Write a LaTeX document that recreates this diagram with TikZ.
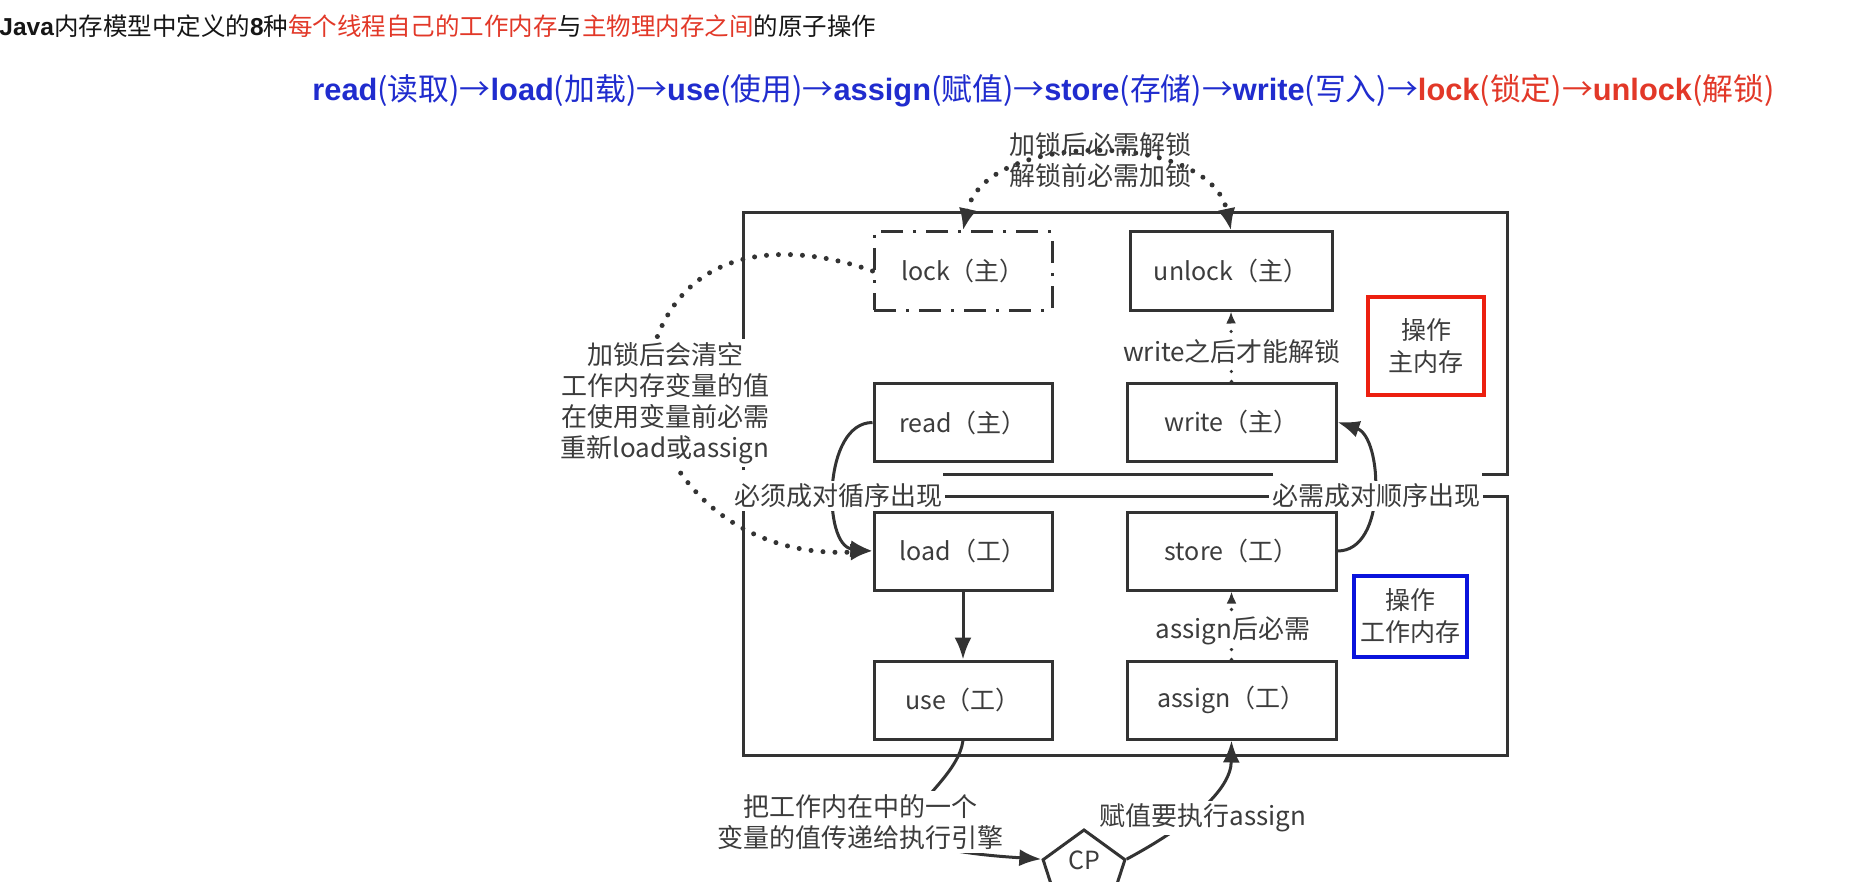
\documentclass[tikz,border=0pt]{standalone}
\usepackage{fontspec}
\setmainfont{Liberation Sans}
\newfontfamily\cjk{Noto Sans CJK SC}
\usetikzlibrary{arrows.meta,shapes.geometric}
\definecolor{linec}{HTML}{333333}
\definecolor{txt}{HTML}{3C3C3C}
\definecolor{tblack}{HTML}{161616}
\definecolor{tred}{RGB}{226,56,40}
\definecolor{tblue}{RGB}{32,44,206}
\definecolor{boxred}{RGB}{236,32,16}
\definecolor{boxblue}{RGB}{10,20,220}
\newcommand\opname[2]{\textbf{#1}{\cjk (#2)}}
\newcommand\oparr{{\cjk →}}
\begin{document}
\begin{tikzpicture}[x=0.5pt,y=-0.5pt,
  opbox/.style={draw=linec, line width=1.5pt, inner sep=0pt, text=txt,
    font=\cjk\fontsize{12.5pt}{14pt}\selectfont, minimum height=39pt},
  lcol/.style={opbox, minimum width=89pt},
  rcol/.style={opbox, minimum width=104.5pt},
  lockbox/.style={lcol, dash pattern=on 11pt off 5pt on 1.5pt off 5pt},
  lbl/.style={text=txt, font=\cjk\fontsize{13pt}{15.5pt}\selectfont, align=center, inner sep=1.5pt},
  wlbl/.style={lbl, fill=white},
  dotc/.style={draw=linec, line width=2.5pt, line cap=round, dash pattern=on 0pt off 6pt},
  dotthin/.style={draw=linec, line width=1.8pt, line cap=round, dash pattern=on 0pt off 5pt},
  solidc/.style={draw=linec, line width=1.5pt},
  framec/.style={draw=linec, line width=1.5pt},
  bigtip/.style={-{Latex[length=11pt,width=8.5pt]}},
  smalltip/.style={-{Latex[length=6pt,width=5pt]}},
  notebox/.style={line width=2pt, align=center, inner sep=0pt, text=txt,
    font=\cjk\fontsize{12.5pt}{16pt}\selectfont}
]
\fill[white] (0,0) rectangle (1862,882);
\clip (0,0) rectangle (1862,882);

% title lines
\node[anchor=west, inner sep=0pt, text=tblack, font=\fontsize{12.25pt}{14pt}\selectfont] (title) at (-1,26)
  {\textbf{Java}{\cjk 内存模型中定义的}\textbf{8}{\cjk 种}\textcolor{tred}{\cjk 每个线程自己的工作内存}{\cjk 与}\textcolor{tred}{\cjk 主物理内存之间}{\cjk 的原子操作}};
\node[anchor=west, inner sep=0pt, text=tblue, font=\fontsize{15.4pt}{18pt}\selectfont] (seq) at (312,91)
  {\opname{read}{读取}\oparr\opname{load}{加载}\oparr\opname{use}{使用}\oparr\opname{assign}{赋值}\oparr\opname{store}{存储}\oparr\opname{write}{写入}\oparr\textcolor{tred}{\opname{lock}{锁定}\oparr\opname{unlock}{解锁}}};

% frames
\draw[framec] (743,470) -- (743,213) -- (1507,213) -- (1507,474) -- (1482,474);
\draw[framec] (1273,474) -- (943,474);
\draw[framec] (943,496) -- (1273,496);
\draw[framec] (1478,496) -- (1507,496) -- (1507,755) -- (743,755) -- (743,508);

% operation boxes
\node[lockbox] (lock) at (963,271) {lock（主）};
\node[opbox, minimum width=101pt] (unlock) at (1231,271) {unlock（主）};
\node[lcol] (read) at (963,422.5) {read（主）};
\node[rcol] (write) at (1231.5,422) {write（主）};
\node[lcol] (load) at (963,551) {load（工）};
\node[rcol] (store) at (1231.5,551) {store（工）};
\node[lcol] (use) at (963,700) {use（工）};
\node[rcol] (assign) at (1231.5,700) {assign（工）};

\node[notebox, draw=boxred, minimum width=58pt, minimum height=49pt] (mainop) at (1426,346) {操作\\主内存};
\node[notebox, draw=boxblue, minimum width=56.5pt, minimum height=40.5pt] (workop) at (1410.5,616.5) {操作\\工作内存};

\node[draw=linec, line width=1.5pt, regular polygon, regular polygon sides=5, minimum size=43pt, inner sep=0pt,
  label={[yshift=6.5pt, text=txt, font=\cjk\fontsize{12.5pt}{14pt}\selectfont]center:CP}] (cp) at (1084,873) {};

% connectors
\draw[dotc, {Latex[length=11pt,width=9pt]}-{Latex[length=11pt,width=9pt]}]
  (lock.north) .. controls (985,130) and (1210,130) .. (unlock.north);
\draw[dotc, bigtip] (lock.west) .. controls (800,245) and (700,240) .. (660,330)
  .. controls (620,420) and (700,560) .. (load.west);
\draw[solidc, bigtip] (read.west) .. controls +(-50,0) and +(-50,-5) .. (load.west);
\draw[solidc, bigtip] (store.east) .. controls +(50,0) and +(45,15) .. (write.east);
\draw[dotthin, smalltip] (write.north) -- (unlock.south);
\draw[dotthin, smalltip] (assign.north) -- (store.south);
\draw[solidc, bigtip] (load.south) -- (use.north);
\draw[solidc, bigtip] (use.south) .. controls (955,800) and (820,845) .. (cp.corner 2);
\draw[solidc, bigtip] (cp.corner 5) .. controls (1190,825) and (1231,790) .. (assign.south);

% labels
\node[lbl] (lbtop) at (1100,160) {加锁后必需解锁\\解锁前必需加锁};
\node[wlbl] (lbclear) at (665,403) {加锁后会清空\\工作内存变量的值\\在使用变量前必需\\重新load或assign};
\node[wlbl] (lbpairl) at (838,496) {必须成对循序出现};
\node[wlbl] (lbpairr) at (1376,496) {必需成对顺序出现};
\node[wlbl] (lbwrite) at (1232,352) {write之后才能解锁};
\node[wlbl] (lbassign) at (1233,631) {assign后必需};
\node[wlbl] (lbuse) at (860,822) {把工作内在中的一个\\变量的值传递给执行引擎};
\node[wlbl] (lbcp) at (1203,818) {赋值要执行assign};
\end{tikzpicture}
\end{document}
